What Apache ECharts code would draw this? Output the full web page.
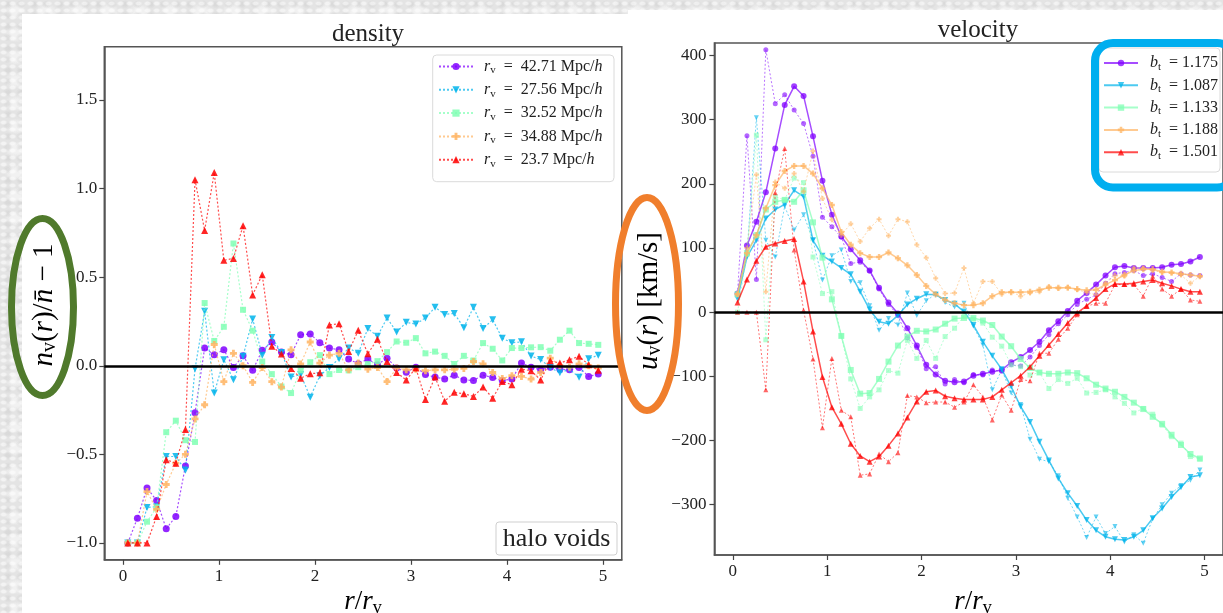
<!DOCTYPE html>
<html>
<head>
<meta charset="utf-8">
<script src="https://cdn.jsdelivr.net/npm/echarts@6/dist/echarts.min.js"></script>
<style>
  html, body { margin: 0; padding: 0; width: 1223px; height: 613px; overflow: hidden; }
  body {
    background-color: #e4e4e4;
    background-image:
      radial-gradient(ellipse at 40% 50%, rgba(255,255,255,0.55) 0 2px, transparent 4px),
      radial-gradient(ellipse at 60% 40%, rgba(200,200,200,0.35) 0 2px, transparent 5px),
      radial-gradient(ellipse at 50% 50%, rgba(250,250,250,0.6) 0 5px, transparent 11px);
    background-size: 9px 7px, 13px 11px, 31px 23px;
  }
  .panel { position: absolute; background: #fff; }
  #chart { position: absolute; left: 0; top: 0; width: 1223px; height: 613px; }
</style>
</head>
<body>
<div class="panel" style="left:22px;top:14px;width:606px;height:599px;"></div>
<div class="panel" style="left:628px;top:10px;width:595px;height:603px;"></div>
<div id="chart"></div>
<script>
// Radial bins r / r_v (bin centres)
const rBins = [0.05, 0.15, 0.25, 0.35, 0.45, 0.55, 0.65, 0.75, 0.85, 0.95,
               1.05, 1.15, 1.25, 1.35, 1.45, 1.55, 1.65, 1.75, 1.85, 1.95,
               2.05, 2.15, 2.25, 2.35, 2.45, 2.55, 2.65, 2.75, 2.85, 2.95,
               3.05, 3.15, 3.25, 3.35, 3.45, 3.55, 3.65, 3.75, 3.85, 3.95,
               4.05, 4.15, 4.25, 4.35, 4.45, 4.55, 4.65, 4.75, 4.85, 4.95];

// Density contrast profiles, one per void radius
const density_4271 = [-1.0, -0.86, -0.69, -0.76, -0.92, -0.85, -0.565, -0.265, 0.10, 0.062,
  0.09, -0.01, 0.056, -0.026, 0.087, 0.134, 0.077, 0.062, 0.175, 0.179,
  0.13, 0.10, 0.09, 0.038, 0.011, 0.038, 0.006, 0.043, -0.013, -0.036,
  -0.008, -0.05, -0.064, -0.075, -0.053, -0.08, -0.083, -0.053, -0.066, -0.083,
  -0.075, 0.015, -0.008, -0.023, -0.008, -0.019, -0.023, -0.01, -0.06, -0.047];
const density_2756 = [-1.0, -1.0, -0.80, -0.795, -0.512, -0.512, -0.59, -0.017, 0.307, -0.154,
  0.034, -0.079, 0.053, 0.264, 0.06, 0.16, 0.075, -0.064, -0.05, -0.177,
  -0.056, -0.01, 0.04, 0.10, 0.07, 0.21, 0.166, 0.27, 0.19, 0.245,
  0.235, 0.27, 0.33, 0.29, 0.295, 0.215, 0.33, 0.21, 0.26, 0.155,
  0.13, 0.135, 0.055, 0.035, -0.01, -0.04, -0.02, -0.065, 0.04, 0.06];
const density_3252 = [-1.0, -1.0, -0.88, -0.80, -0.375, -0.31, -0.42, -0.43, 0.354, 0.14,
  0.22, 0.69, 0.316, 0.198, 0.024, -0.047, -0.117, -0.154, -0.026, 0.02,
  0.06, -0.047, -0.024, -0.026, -0.008, 0.01, 0.026, 0.077, 0.137, 0.13,
  0.156, 0.07, 0.08, 0.056, 0.01, 0.056, 0.03, 0.128, 0.096, 0.03,
  0.1, 0.1, 0.104, 0.105, 0.085, 0.147, 0.198, 0.128, 0.124, 0.118];
const density_3488 = [-1.0, -1.0, -0.71, -0.81, -0.67, -0.55, -0.50, -0.30, -0.22, 0.12,
  -0.09, 0.07, 0.0, -0.094, -0.01, -0.09, -0.12, 0.09, 0.01, 0.134,
  0.015, 0.06, 0.07, -0.023, 0.015, -0.019, -0.01, -0.089, -0.013, -0.023,
  -0.02, -0.028, -0.023, -0.023, -0.02, -0.015, 0.024, 0.011, -0.038, -0.072,
  -0.056, -0.06, -0.075, -0.038, 0.043, 0.0, -0.008, 0.011, 0.0, -0.013];
const density_2370 = [-1.0, -1.0, -1.0, -0.85, -0.53, -0.55, -0.36, 1.05, 0.763, 1.09,
  0.595, 0.606, 0.79, 0.40, 0.514, 0.11, 0.066, -0.015, -0.07, -0.045,
  -0.04, 0.23, 0.237, 0.08, 0.2, 0.068, 0.15, 0.024, -0.038, -0.08,
  -0.013, -0.19, -0.064, -0.2, -0.15, -0.158, -0.173, -0.12, -0.183, -0.089,
  -0.107, -0.019, -0.028, -0.08, 0.028, 0.015, 0.034, 0.053, 0.006, -0.026];

// Velocity profiles: smoothed (solid) and raw (dotted), one pair per tracer bias
const vel_1175_smooth = [29, 104, 141, 187, 255, 323, 352, 337, 274, 205,
  152, 118, 98, 81, 65, 38, 15, -2, -25, -52,
  -82, -97, -107, -109, -108, -99, -96, -93, -90, -78,
  -70, -59, -46, -28, -14, 2, 18, 30, 43, 57,
  70, 72, 69, 69, 69, 70, 74, 75, 79, 86];
const vel_1175_raw = [29, 275, 51, 409, 325, 339, 315, 294, 243, 148,
  133, 117, 76, 78, 64, 36, 12, -5, -40, -55,
  -88, -85, -112, -105, -110, -97, -98, -90, -92, -82,
  -84, -70, -52, -35, -18, -4, 12, 20, 27, 45,
  60, 62, 65, 57, 60, 54, 48, 60, 58, 57];
const vel_1087_smooth = [21, 86, 112, 146, 160, 168, 190, 180, 112, 88,
  79, 69, 59, 32, 4, -15, -18, -5, 12, 21,
  28, 27, 19, 13, 1, -20, -46, -68, -89, -116,
  -147, -171, -202, -231, -259, -282, -302, -324, -340, -350,
  -354, -355, -350, -340, -321, -306, -288, -273, -257, -254];
const vel_1087_raw = [28, 90, 303, 112, 86, 165, 128, 152, 112, 50,
  88, 97, 48, 46, 10, -28, -10, -20, 30, -5,
  18, 28, 15, 8, 14, -22, -51, -121, -90, -126,
  -144, -198, -229, -233, -255, -290, -319, -351, -319, -345,
  -334, -358, -347, -360, -322, -300, -282, -270, -262, -246];
const vel_1133_smooth = [28, 92, 120, 160, 172, 175, 172, 190, 140, 85,
  20, -37, -90, -127, -126, -104, -77, -52, -38, -29,
  -30, -27, -18, -10, -9, -9, -13, -20, -38, -53,
  -73, -87, -94, -96, -96, -94, -95, -103, -113, -119,
  -124, -132, -141, -151, -163, -174, -191, -207, -221, -228];
const vel_1133_raw = [0, 90, 276, -43, 180, 175, 209, 202, 86, 29,
  32, -37, -104, -150, -132, -121, -91, -95, -44, -72,
  -44, -72, -38, -25, -6, -11, -17, -39, -53, -82,
  -85, -98, -94, -119, -105, -111, -103, -126, -125, -121,
  -132, -142, -157, -150, -159, -176, -194, -204, -225, -229];
const vel_1188_smooth = [28, 92, 120, 162, 198, 220, 228, 228, 216, 193,
  167, 125, 105, 92, 86, 86, 93, 84, 73, 58,
  41, 28, 19, 14, 11, 11, 14, 25, 31, 31,
  31, 32, 35, 38, 38, 38, 36, 34, 35, 43,
  50, 58, 65, 67, 67, 63, 62, 60, 58, 56];
const vel_1188_raw = [28, 100, 214, 32, 203, 193, 216, 188, 251, 177,
  144, 120, 138, 110, 131, 145, 119, 145, 141, 105,
  85, 53, 29, 30, 69, 14, 48, 48, 28, 32,
  25, 30, 32, 40, 37, 39, 35, 31, 27, 45,
  57, 56, 69, 69, 65, 62, 61, 58, 45, 56];
const vel_1501_smooth = [15, 51, 80, 102, 107, 111, 114, 48, -30, -101,
  -148, -174, -205, -224, -233, -225, -208, -189, -164, -139,
  -124, -122, -131, -134, -136, -136, -136, -132, -121, -110,
  -99, -85, -68, -51, -34, -17, -1, 10, 22, 36,
  44, 44, 45, 48, 50, 45, 41, 36, 32, 32];
const vel_1501_raw = [0, 0, 0, -121, 186, 255, 97, 3, -73, -180,
  -72, -153, -163, -254, -252, -221, -233, -219, -130, -132,
  -141, -140, -140, -148, -140, -113, -132, -168, -129, -153,
  -105, -107, -64, -64, -42, -25, -4, 9, 14, 14,
  43, 43, 43, 25, 56, 36, 25, 36, 19, 17];

// Tick values
const xTicks = [0, 1, 2, 3, 4, 5];
const densityTicks = [-1.0, -0.5, 0.0, 0.5, 1.0, 1.5];
const velocityTicks = [-300, -200, -100, 0, 100, 200, 300, 400];

// Legend labels
const radiusLabels = ['42.71', '27.56', '32.52', '34.88', '23.7'];
const biasLabels = ['1.175', '1.087', '1.133', '1.188', '1.501'];

const SERIF = '"Liberation Serif", "DejaVu Serif", serif';
const COLORS = ['#8000ff', '#00b4eb', '#80ffb4', '#ffb462', '#ff0000'];
const PLUS = 'path://M3,0H7V3H10V7H7V10H3V7H0V3H3Z';
const MARKERS = [
  { symbol: 'circle', rotate: 0 },
  { symbol: 'triangle', rotate: 180 },
  { symbol: 'rect', rotate: 0 },
  { symbol: PLUS, rotate: 0 },
  { symbol: 'triangle', rotate: 0 }
];

const pairs = vals => rBins.map((x, i) => [x, vals[i]]);
const minus = s => s.replace('-', '\u2212');

const densitySets = [density_4271, density_2756, density_3252, density_3488, density_2370];
const smoothSets = [vel_1175_smooth, vel_1087_smooth, vel_1133_smooth, vel_1188_smooth, vel_1501_smooth];
const rawSets = [vel_1175_raw, vel_1087_raw, vel_1133_raw, vel_1188_raw, vel_1501_raw];

const series = [];
densitySets.forEach((vals, i) => {
  series.push({
    name: 'rv' + i, type: 'line', xAxisIndex: 0, yAxisIndex: 0,
    data: pairs(vals),
    symbol: MARKERS[i].symbol, symbolRotate: MARKERS[i].rotate,
    symbolSize: i === 2 ? 6 : 7,
    showSymbol: true,
    lineStyle: { color: COLORS[i], width: 1.2, type: [2, 2], opacity: 0.7 },
    itemStyle: { color: COLORS[i], opacity: 0.85 },
    emphasis: { disabled: true }, silent: true, z: 2 + i * 0.1
  });
});
smoothSets.forEach((vals, i) => {
  series.push({
    name: 'bt' + i, type: 'line', xAxisIndex: 1, yAxisIndex: 1,
    data: pairs(vals),
    symbol: MARKERS[i].symbol, symbolRotate: MARKERS[i].rotate, symbolSize: 6,
    lineStyle: { color: COLORS[i], width: 1.5, opacity: 0.7 },
    itemStyle: { color: COLORS[i], opacity: 0.75 },
    emphasis: { disabled: true }, silent: true, z: 2 + i * 0.1
  });
  series.push({
    name: 'raw' + i, type: 'line', xAxisIndex: 1, yAxisIndex: 1,
    data: pairs(rawSets[i]),
    symbol: MARKERS[i].symbol, symbolRotate: MARKERS[i].rotate, symbolSize: 5,
    lineStyle: { color: COLORS[i], width: 1, type: [2, 2], opacity: 0.55 },
    itemStyle: { color: COLORS[i], opacity: 0.6 },
    emphasis: { disabled: true }, silent: true, z: 2 + i * 0.1
  });
});
// Zero reference lines
[0, 1].forEach(g => {
  series.push({
    name: 'zero' + g, type: 'line', xAxisIndex: g, yAxisIndex: g, data: [],
    silent: true, z: 5,
    markLine: {
      silent: true, symbol: 'none', animation: false,
      label: { show: false },
      lineStyle: { color: '#000', width: 2.5, type: 'solid' },
      data: [{ yAxis: 0 }]
    }
  });
});

const tickLabel = { fontFamily: SERIF, fontSize: 17, color: '#222' };
function xAxisFor(g) {
  return {
    gridIndex: g, type: 'value', min: -0.195, max: 5.195,
    axisLine: { show: true, onZero: false, lineStyle: { color: '#555', width: 1.5 } },
    axisTick: { show: true, customValues: xTicks, length: 5, lineStyle: { color: '#444', width: 1.2 } },
    axisLabel: Object.assign({ customValues: xTicks, margin: 8, formatter: v => String(v) }, tickLabel),
    splitLine: { show: false }
  };
}

const richMain = (size) => ({
  i: { fontFamily: SERIF, fontStyle: 'italic', fontSize: size, color: '#222', lineHeight: size + 3 },
  r: { fontFamily: SERIF, fontSize: size, color: '#222', lineHeight: size + 3 },
  s: { fontFamily: SERIF, fontSize: Math.round(size * 0.68), color: '#222', lineHeight: Math.round(size * 0.68), verticalAlign: 'bottom' }
});

const option = {
  animation: false,
  backgroundColor: 'transparent',
  grid: [
    { left: 104.3, top: 46.8, width: 517.5, height: 513, show: true, borderColor: '#555', borderWidth: 1.5, backgroundColor: 'transparent' },
    { left: 714.4, top: 43, width: 516.4, height: 512, show: true, borderColor: '#555', borderWidth: 1.5, backgroundColor: 'transparent' }
  ],
  xAxis: [xAxisFor(0), xAxisFor(1)],
  yAxis: [
    {
      gridIndex: 0, type: 'value', min: -1.095, max: 1.8,
      axisLine: { show: true, onZero: false, lineStyle: { color: '#555', width: 1.5 } },
      axisTick: { show: true, customValues: densityTicks, length: 5, lineStyle: { color: '#444', width: 1.2 } },
      axisLabel: Object.assign({ customValues: densityTicks, margin: 7, formatter: v => minus(v.toFixed(1)) }, tickLabel),
      splitLine: { show: false }
    },
    {
      gridIndex: 1, type: 'value', min: -378.4, max: 419.5,
      axisLine: { show: true, onZero: false, lineStyle: { color: '#555', width: 1.5 } },
      axisTick: { show: true, customValues: velocityTicks, length: 5, lineStyle: { color: '#444', width: 1.2 } },
      axisLabel: Object.assign({ customValues: velocityTicks, margin: 8, formatter: v => minus(String(v)) }, tickLabel),
      splitLine: { show: false }
    }
  ],
  title: [
    { text: 'density', left: 363, top: 17, textAlign: 'center', textStyle: { fontFamily: SERIF, fontSize: 25, fontWeight: 'normal', color: '#222' } },
    { text: 'velocity', left: 973, top: 13, textAlign: 'center', textStyle: { fontFamily: SERIF, fontSize: 25, fontWeight: 'normal', color: '#222' } }
  ],
  legend: [
    {
      data: ['rv0', 'rv1', 'rv2', 'rv3', 'rv4'],
      orient: 'vertical', left: 438, top: 58.5, padding: 0,
      itemWidth: 34, itemHeight: 9, itemGap: 5.8,
      selectedMode: false,
      formatter: name => '{i|r}{s|v}{r|  =  ' + radiusLabels[+name.slice(2)] + ' Mpc/}{i|h}',
      textStyle: { padding: [0, 0, 0, 6], rich: richMain(16) }
    },
    {
      data: ['bt0', 'bt1', 'bt2', 'bt3', 'bt4'],
      orient: 'vertical', left: 1103, top: 55, padding: 0,
      itemWidth: 34, itemHeight: 8, itemGap: 4.8,
      selectedMode: false,
      formatter: name => '{i|b}{s|t}{r|  = ' + biasLabels[+name.slice(2)] + '}',
      textStyle: { padding: [0, 0, 0, 7], rich: richMain(16) }
    }
  ],
  graphic: [
    // legend frames
    { type: 'rect', z: 3, shape: { x: 432.7, y: 55, width: 181.3, height: 126.7, r: 4 },
      style: { fill: 'rgba(255,255,255,0.85)', stroke: '#dadada', lineWidth: 1 } },
    { type: 'rect', z: 3, shape: { x: 1099, y: 48, width: 121, height: 124, r: 4 },
      style: { fill: 'rgba(255,255,255,0.85)', stroke: '#dadada', lineWidth: 1 } },
    // sample annotation
    { type: 'rect', z: 3, shape: { x: 496, y: 522, width: 121, height: 33, r: 3 },
      style: { fill: '#fff', stroke: '#cfcfcf', lineWidth: 1 } },
    { type: 'text', z: 4, x: 556.5, y: 539,
      style: { text: 'halo voids', font: '26px ' + SERIF, fill: '#222', align: 'center', verticalAlign: 'middle' } },
    // x-axis names
    { type: 'text', z: 4, x: 363, y: 602,
      style: { text: '{i|r}{r|/}{i|r}{s|v}', align: 'center', verticalAlign: 'middle', rich: richMain(27) } },
    { type: 'text', z: 4, x: 973, y: 602,
      style: { text: '{i|r}{r|/}{i|r}{s|v}', align: 'center', verticalAlign: 'middle', rich: richMain(27) } },
    // y-axis names
    { type: 'text', z: 4, x: 44, y: 305, rotation: Math.PI / 2,
      style: { text: '{i|n}{s|v}{r|(}{i|r}{r|)/}{i|n\u0304}{r| \u2212 1}', align: 'center', verticalAlign: 'middle', rich: richMain(29) } },
    { type: 'text', z: 4, x: 649, y: 301, rotation: Math.PI / 2,
      style: { text: '{i|u}{s|v}{r|(}{i|r}{r|) [km/s]}', align: 'center', verticalAlign: 'middle', rich: richMain(29) } },
    // highlight marks
    { type: 'ellipse', z: 20, shape: { cx: 42.5, cy: 307, rx: 31, ry: 88.5 },
      style: { fill: 'none', stroke: '#507a2c', lineWidth: 7 } },
    { type: 'ellipse', z: 20, shape: { cx: 647, cy: 304, rx: 31.5, ry: 106.5 },
      style: { fill: 'none', stroke: '#f07e2c', lineWidth: 7 } },
    { type: 'rect', z: 20, shape: { x: 1095, y: 43, width: 140, height: 144.5, r: 18 },
      style: { fill: 'none', stroke: '#00aeef', lineWidth: 8 } }
  ],
  series: series
};

const chart = echarts.init(document.getElementById('chart'), null, { renderer: 'canvas' });
chart.setOption(option);
</script>
</body>
</html>
